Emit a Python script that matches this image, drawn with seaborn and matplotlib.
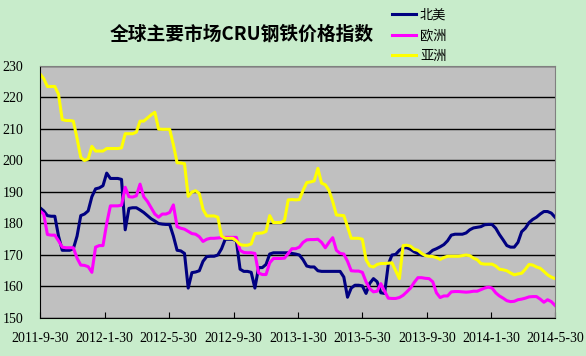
import numpy as np
import pandas as pd
import seaborn as sns
import matplotlib.pyplot as plt
import matplotlib.dates as mdates

# ---------------------------------------------------------
# DATA (weekly CRU index)
# ---------------------------------------------------------

START = "2011-09-30"
N_WEEKS = 140

north_america = [
    185, 184, 182.5, 182.3, 182.3, 176, 171.5, 171.5, 171.5, 172,
    176, 182.5, 183, 184, 188.5, 191, 191.3, 192, 196, 194.3,
    194.3, 194.3, 194, 178, 184.8, 185, 185, 184.3, 183.5, 182.5,
    181.5, 180.8, 180, 179.8, 179.7, 179.7, 176, 171.5, 171.3, 170.5,
    159.5, 164.4, 164.6, 165, 168, 169.5, 169.6, 169.6, 170, 172,
    175, 175, 175, 174.5, 165.5, 164.8, 164.8, 164.5, 159.5, 166,
    166, 167, 170.3, 170.7, 170.7, 170.7, 170.7, 170.7, 170.5, 170.3,
    170, 168.5, 166.5, 166.2, 166.2, 165, 164.8, 164.8, 164.8, 164.8,
    164.8, 164.8, 163, 156.6, 159.5, 160.4, 160.4, 160.2, 157.8, 161,
    162.5, 161.5, 158, 157.8, 167, 170, 170.2, 171.5, 172.3, 172.3,
    171.8, 171, 170.5, 170, 169.8, 170.5, 171.5, 172, 172.6, 173.3,
    174.5, 176.3, 176.6, 176.6, 176.6, 177, 178, 178.6, 178.8, 179,
    179.6, 179.7, 179.7, 178.5, 176.5, 174.8, 173, 172.5, 172.5, 174,
    177.4, 178.5, 180.3, 181.3, 182, 183, 183.8, 183.8, 183.3, 182,
]

europe = [
    184, 183, 176.5, 176.3, 176.3, 174.5, 172.5, 172.3, 172.3, 172.3,
    169, 166.8, 166.7, 166.3, 164.5, 172.5, 173, 173, 180, 185.6,
    185.6, 185.6, 185.8, 191.5, 188.5, 188.4, 188.8, 192.5, 188.5, 187,
    185, 183, 182, 183, 183, 183.5, 185.9, 179, 178.5, 178.2,
    177.5, 176.8, 176.6, 175.8, 174.3, 175, 175.3, 175.3, 175.4, 175.5,
    175.6, 175.6, 175.6, 175.6, 171.5, 170.8, 170.7, 170.7, 170.5, 164.3,
    163.8, 163.8, 167.5, 168.9, 168.9, 168.9, 169, 170.5, 172, 172,
    172.5, 174, 174.8, 174.9, 174.9, 175, 174, 172.3, 174, 175.5,
    171.5, 170.5, 170.3, 168, 165, 164.9, 164.9, 164.5, 161.5, 159.3,
    158.3, 158.5, 160.9, 158.5, 156.3, 156.2, 156.2, 156.5, 157.2, 158.3,
    159.5, 161.3, 162.8, 162.8, 162.6, 162.5, 161.5, 158, 156.5, 157,
    157, 158.3, 158.4, 158.4, 158.3, 158.2, 158.3, 158.5, 158.5, 159,
    159.5, 159.8, 159.5, 158, 157, 156.3, 155.5, 155.2, 155.3, 155.8,
    156, 156.3, 156.7, 156.8, 156.8, 156, 155, 155.8, 155.2, 154,
]

asia = [
    227.5, 226, 223.5, 223.5, 223.5, 221, 213, 212.7, 212.7, 212.5,
    207, 201, 200, 200.5, 204.5, 203, 203, 203, 203.8, 203.8,
    203.8, 203.8, 204, 208.5, 208.5, 208.5, 209, 212.5, 212.5, 213.5,
    214.5, 215.3, 210, 209.9, 209.9, 209.9, 205, 199.3, 199.2, 199,
    188.6, 190, 190.4, 189.5, 184.5, 182.4, 182.4, 182.4, 182, 176,
    175.3, 175.3, 175.3, 174.5, 173.3, 173.1, 173.1, 173.5, 176.8, 176.9,
    177, 177.5, 182.5, 180.3, 180.3, 180.3, 181, 187.5, 187.6, 187.5,
    187.6, 190.5, 193, 193.2, 193.5, 197.5, 192.8, 192.3, 190.5, 187,
    182.7, 182.6, 182.5, 179, 175.3, 175.3, 175.3, 175, 168.5, 166.5,
    166.2, 167, 167.3, 167.3, 167.4, 167.5, 165, 162.5, 173, 173.1,
    172.8, 171.8, 171.5, 170.5, 169.8, 169.6, 169.5, 169.2, 168.6, 169.2,
    169.6, 169.6, 169.6, 169.6, 169.8, 170, 169.8, 169, 168.5, 167.3,
    167.1, 167.1, 167.1, 166.5, 165.5, 165.3, 165, 164.3, 163.7, 164,
    164.2, 165.5, 167, 166.8, 166.2, 165.8, 164.8, 163.7, 163, 162.5,
]

regions = ["北美", "欧洲", "亚洲"]
colors = ["#000080", "#FF00FF", "#FFFF00"]

tick_dates = ["2011-9-30", "2012-1-30", "2012-5-30", "2012-9-30", "2013-1-30",
              "2013-5-30", "2013-9-30", "2014-1-30", "2014-5-30"]

# ---------------------------------------------------------
# BUILD TABLE
# ---------------------------------------------------------

dates = pd.date_range(START, periods=N_WEEKS, freq="7D")
df = pd.concat([
    pd.DataFrame({"date": dates, "index": vals, "region": name})
    for name, vals in zip(regions, [north_america, europe, asia])
])

# ---------------------------------------------------------
# PLOT
# ---------------------------------------------------------

BG = "#C8ECCB"
serif = ["Liberation Serif", "DejaVu Serif"]
cjk = ["Noto Sans CJK SC", "DejaVu Sans"]

fig = plt.figure(figsize=(5.86, 3.56), dpi=100, facecolor=BG)
ax = fig.add_axes([40 / 586, 38 / 356, 515 / 586, 252 / 356])
ax.set_facecolor("#C0C0C0")

sns.lineplot(data=df, x="date", y="index", hue="region", hue_order=regions,
             palette=colors, linewidth=2.2, ax=ax)

ax.set_ylim(150, 230)
ax.set_yticks(range(150, 231, 10))
ax.set_xlim(dates[0], dates[-1])
ax.set_xticks(pd.to_datetime(tick_dates))
ax.set_xticklabels(tick_dates)
ax.grid(axis="y", color="black", linewidth=1)
ax.set_axisbelow(True)
ax.set_xlabel("")
ax.set_ylabel("")

for lab in ax.get_xticklabels() + ax.get_yticklabels():
    lab.set_family(serif)
    lab.set_fontsize(10)
ax.tick_params(axis="x", direction="in", length=4, pad=10, color="black")
ax.tick_params(axis="y", length=0, pad=12)

ax.spines["left"].set_color("black")
ax.spines["bottom"].set_color("black")
ax.spines["top"].set_color("#808080")
ax.spines["right"].set_color("#808080")

fig.text(242 / 586, 1 - 34 / 356, "全球主要市场CRU钢铁价格指数",
         family=cjk, fontsize=13.5, fontweight="bold", ha="center", va="center")

leg = ax.legend(loc="upper left", bbox_to_anchor=(383 / 586, 1 + 1 / 356),
                bbox_transform=fig.transFigure, frameon=False,
                prop={"family": cjk, "size": 9.5}, handlelength=1.8,
                handletextpad=0.3, labelspacing=0.6, borderpad=0.2)
for line in leg.get_lines():
    line.set_linewidth(2.2)

fig.savefig("out.png", dpi=100, facecolor=BG)
